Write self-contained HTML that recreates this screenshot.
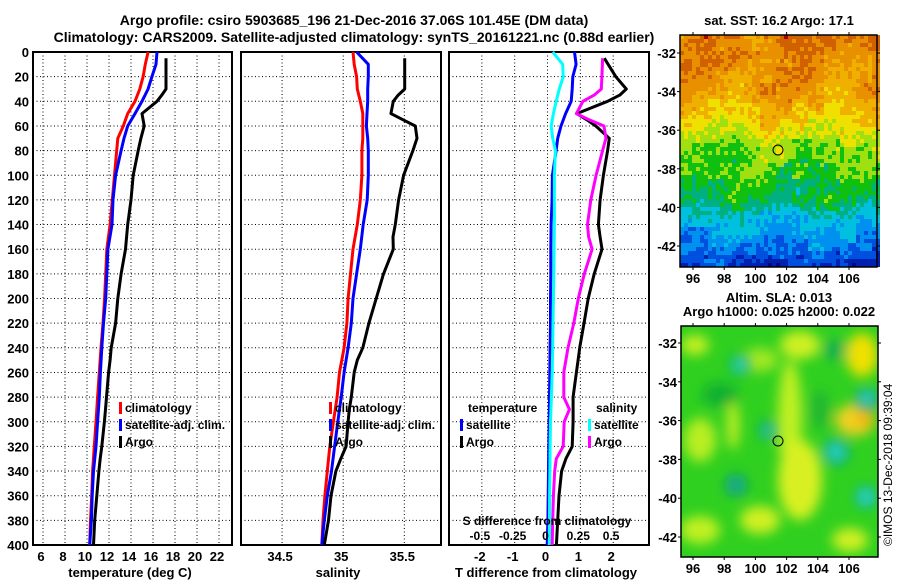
<!DOCTYPE html>
<html><head><meta charset="utf-8"><style>
body{margin:0;background:#fff;}
svg{display:block;font-family:"Liberation Sans",sans-serif;font-weight:bold;font-size:13px;}
.lg{font-size:12px;}
</style></head><body>
<svg id="fig" width="900" height="580" viewBox="0 0 900 580">
<text x="354" y="25" text-anchor="middle" font-size="14">Argo profile: csiro 5903685_196 21-Dec-2016 37.06S 101.45E (DM data)</text>
<text x="354" y="42" text-anchor="middle" font-size="14">Climatology: CARS2009. Satellite-adjusted climatology: synTS_20161221.nc (0.88d earlier)</text>
<g id="p1"></g>
<g id="p2"></g>
<g id="p3"></g>
<g id="m1"></g>
<g id="m2"></g>
<text x="779" y="25" text-anchor="middle">sat. SST: 16.2 Argo: 17.1</text>
<text x="779" y="302" text-anchor="middle">Altim. SLA: 0.013</text>
<text x="779" y="316" text-anchor="middle">Argo h1000: 0.025 h2000: 0.022</text>
<text transform="translate(892,546) rotate(-90)" font-weight="normal" font-size="12">©IMOS 13-Dec-2018 09:39:04</text>
</svg>
<script>
const depths=[0,10,20,30,40,50,60,70,80,100,120,140,160,180,200,220,240,260,280,300,320,340,360,380,400];
const tClim=[15.55,15.3,15.1,14.8,14.36,13.7,13.3,12.8,12.7,12.5,12.3,12.1,11.8,11.7,11.6,11.45,11.27,11.12,10.96,10.82,10.66,10.51,10.43,10.32,10.24];
const tSat=[16.36,16.27,15.9,15.55,15.0,14.36,13.7,13.36,13.1,12.6,12.36,12.27,11.9,11.8,11.7,11.5,11.34,11.22,11.12,10.96,10.82,10.59,10.47,10.4,10.24];
const sClim=[35.08,35.09,35.11,35.115,35.14,35.16,35.16,35.16,35.153,35.153,35.14,35.115,35.08,35.06,35.04,35.03,35.007,34.97,34.95,34.92,34.89,34.87,34.85,34.835,34.825];
const sSat=[35.11,35.205,35.205,35.2,35.2,35.195,35.19,35.2,35.205,35.205,35.196,35.164,35.14,35.11,35.08,35.066,35.04,35.007,34.984,34.956,34.93,34.904,34.87,34.845,34.825];
const dTSat=[0.82,0.87,0.77,0.75,0.72,0.55,0.41,0.31,0.26,0.15,0.14,0.11,0.1,0.1,0.09,0.09,0.08,0.07,0.06,0.05,0.04,0.03,0.02,0.01,-0.01];
const dSSat=[0.04,0.116,0.12,0.09,0.066,0.045,0.028,0.04,0.06,0.053,0.053,0.053,0.05,0.048,0.045,0.042,0.04,0.036,0.03,0.023,0.02,0.018,0.016,0.015,0.014];
const argoDepths=[5,20,30,35,40,50,55,60,70,80,100,120,140,150,160,180,200,220,240,250,260,280,290,300,320,330,340,360,380,400];
const tArgo=[17.18,17.18,17.18,16.8,16.36,15.0,15.1,15.2,14.9,14.65,14.2,14.0,13.7,13.6,13.5,13.1,12.8,12.6,12.2,12.1,11.96,11.77,11.68,11.58,11.34,11.2,11.08,10.89,10.7,10.59];
const sArgo=[35.503,35.503,35.503,35.45,35.41,35.39,35.49,35.59,35.604,35.57,35.494,35.453,35.426,35.407,35.41,35.33,35.27,35.21,35.16,35.115,35.09,35.066,35.05,35.04,35.024,34.98,34.94,34.9,34.88,34.845];
const dTArgo=[1.73,2.08,2.4,2.2,1.83,0.89,1.2,1.47,1.88,1.83,1.7,1.6,1.55,1.6,1.66,1.42,1.24,1.11,0.98,0.93,0.88,0.78,0.78,0.78,0.75,0.56,0.43,0.35,0.31,0.27];
const dSArgo=[0.42,0.414,0.41,0.356,0.27,0.22,0.318,0.43,0.445,0.42,0.37,0.33,0.305,0.313,0.34,0.28,0.235,0.2,0.156,0.14,0.124,0.124,0.167,0.127,0.12,0.067,0.055,0.045,0.04,0.036];
const depthTicks=[0,20,40,60,80,100,120,140,160,180,200,220,240,260,280,300,320,340,360,380,400];
const tTicks=[6,8,10,12,14,16,18,20,22];
const sTicks=[34.5,35,35.5];
const dTTicks=[-2,-1,0,1,2];
const dSTicks=[-0.5,-0.25,0,0.25,0.5];
const dSTickLabels=["-0.5","-0.25","0","0.25","0.5"];
const lonTicks=[96,98,100,102,104,106];
const latTicks=[-32,-34,-36,-38,-40,-42];

const NS="http://www.w3.org/2000/svg";
function mk(parent,tag,attrs,text){const e=document.createElementNS(NS,tag);for(const k in attrs)e.setAttribute(k,attrs[k]);if(text!==undefined)e.textContent=text;parent.appendChild(e);return e;}
const Y0=52,Y1=545;
const yScale=d=>Y0+(d/400)*(Y1-Y0);
function lin(d0,d1,r0,r1){return v=>r0+(v-d0)/(d1-d0)*(r1-r0);}

function panel(g,x0,x1,xs,ticks,labels,yLabels){
  for(const d of depthTicks){const y=yScale(d);
    const l=mk(g,'line',{x1:x0,x2:x1,y1:y,y2:y,stroke:'#000','stroke-width':1,'stroke-dasharray':'1,2.5'});
    
    if(yLabels){const t=mk(g,'text',{x:29,y:y+5,'text-anchor':'end'},String(d));
      }
  }
  ticks.forEach((v,i)=>{const x=xs(v);
    const l=mk(g,'line',{x1:x,x2:x,y1:Y0,y2:Y1,stroke:'#000','stroke-width':1,'stroke-dasharray':'1,2.5'});
    
    const t=mk(g,'text',{x:x-2,y:561,'text-anchor':'middle'},labels[i]);
    
  });
  const r=mk(g,'rect',{x:x0,y:Y0,width:x1-x0,height:Y1-Y0,fill:'none',stroke:'#000','stroke-width':2});
  
}
function line(g,xs,vals,ds,color,name){
  const pts=vals.map((v,i)=>xs(v).toFixed(1)+','+yScale(ds[i]).toFixed(1)).join(' ');
  const p=mk(g,'polyline',{points:pts,fill:'none',stroke:color,'stroke-width':3,'stroke-linejoin':'round'});
  
}
function legend(g,x,y,color,label,name){
  const r=mk(g,'rect',{x:x,y:y-10,width:3,height:12,fill:color});
  
  const t=mk(g,'text',{x:x+6,y:y,'class':'lg'},label);
  
}
function axTitle(g,x,text,name){const t=mk(g,'text',{x:x,y:577,'text-anchor':'middle'},text);}

const g1=document.getElementById('p1');
const xT=lin(5.09,23.18,33,232);
panel(g1,33,232,xT,tTicks,tTicks.map(String),true);
line(g1,xT,tClim,depths,'#ff0000','temp-climatology-line');
line(g1,xT,tSat,depths,'#0000ff','temp-satellite-line');
line(g1,xT,tArgo,argoDepths,'#000000','temp-argo-line');
legend(g1,119,412,'#ff0000','climatology','legend-climatology');
legend(g1,119,429,'#0000ff','satellite-adj. clim.','legend-satellite');
legend(g1,119,446,'#000000','Argo','legend-argo');
axTitle(g1,130,'temperature (deg C)','temperature-axis-title');

const g2=document.getElementById('p2');
const xS=lin(34.164,35.80,241,441);
panel(g2,241,441,xS,sTicks,["34.5","35","35.5"],false);
line(g2,xS,sClim,depths,'#ff0000','sal-climatology-line');
line(g2,xS,sSat,depths,'#0000ff','sal-satellite-line');
line(g2,xS,sArgo,argoDepths,'#000000','sal-argo-line');
legend(g2,329,412,'#ff0000','climatology','legend2-climatology');
legend(g2,329,429,'#0000ff','satellite-adj. clim.','legend2-satellite');
legend(g2,329,446,'#000000','Argo','legend2-argo');
axTitle(g2,338,'salinity','salinity-axis-title');

const g3=document.getElementById('p3');
const xD=lin(-3,3.09,449,649);
const xDS=lin(-0.75,0.773,449,649);
panel(g3,449,649,xD,dTTicks,dTTicks.map(String),false);
line(g3,xD,dTSat,depths,'#0000ff','dT-satellite-line');
line(g3,xDS,dSSat,depths,'#00ffff','dS-satellite-line');
line(g3,xD,dTArgo,argoDepths,'#000000','dT-argo-line');
line(g3,xDS,dSArgo,argoDepths,'#ff00ff','dS-argo-line');
let t=mk(g3,'text',{x:468,y:412,'class':'lg'},'temperature');
legend(g3,460,429,'#0000ff','satellite','legend3-t-satellite');
legend(g3,460,446,'#000000','Argo','legend3-t-argo');
t=mk(g3,'text',{x:596,y:412,'class':'lg'},'salinity');
legend(g3,588,429,'#00ffff','satellite','legend3-s-satellite');
legend(g3,588,446,'#ff00ff','Argo','legend3-s-argo');
t=mk(g3,'text',{x:547,y:525,'text-anchor':'middle','class':'lg'},'S difference from climatology');
dSTicks.forEach((v,i)=>{const tt=mk(g3,'text',{x:xDS(v)-2,y:540,'text-anchor':'middle','class':'lg'},dSTickLabels[i]);
  });
axTitle(g3,546,'T difference from climatology','t-diff-axis-title');

function mapAxes(g,x0,y0,x1,y1,latTop,latStep){
  const lonX=lin(96,106,693,849);
  lonTicks.forEach(v=>{const x=lonX(v);
    mk(g,'line',{x1:x,x2:x,y1:y0-3,y2:y0,stroke:'#000'});
    mk(g,'line',{x1:x,x2:x,y1:y1,y2:y1+3,stroke:'#000'});
    const tt=mk(g,'text',{x:x,y:y1+16,'text-anchor':'middle'},String(v));
    });
  latTicks.forEach(v=>{const y=latTop+(-32-v)/2*latStep;
    mk(g,'line',{x1:x0-3,x2:x0,y1:y,y2:y,stroke:'#000'});
    mk(g,'line',{x1:x1,x2:x1+3,y1:y,y2:y,stroke:'#000'});
    const tt=mk(g,'text',{x:x0-4,y:y+5,'text-anchor':'end'},String(v));
    });
  const r=mk(g,'rect',{x:x0,y:y0,width:x1-x0,height:y1-y0,fill:'none',stroke:'#000','stroke-width':1.5});
  
}
function hash(i,j){let h=(i*374761393+j*668265263)|0;h=(h^(h>>>13))*1274126177|0;return ((h^(h>>>16))>>>0)/4294967296;}
const pal=['#000a80','#0020b0','#0050e0','#0090f0','#00c0e0','#00b080','#10c010','#a0e010','#f0e000','#f0b000','#e89000','#d06000','#b00000'];
const m1=document.getElementById('m1');
(function(){
  const x0=680,y0=35,w=197,h=232,c=4;
  const stops=[[0,10.6],[25,10.1],[60,9.5],[90,8.2],[105,7],[130,6.2],[160,5.6],[180,4],[200,3.2],[232,1.3]];
  function base(y){for(let k=1;k<stops.length;k++){if(y<=stops[k][0]){const a=stops[k-1],b=stops[k];return a[1]+(y-a[0])/(b[0]-a[0])*(b[1]-a[1]);}}return 1;}
  for(let j=0;j*c<h;j++)for(let i=0;i*c<w;i++){
    let v=base(j*c)+(hash(i,j)-0.5)*1.3+Math.sin(i*0.25+j*0.1)*0.4+(hash(i>>2,j>>2)-0.5)*1.0;
    const k=Math.max(0,Math.min(pal.length-1,Math.round(v)));
    mk(m1,'rect',{x:x0+i*c,y:y0+j*c,width:c,height:c,fill:pal[k]});
  }
  const cc=mk(m1,'circle',{cx:778,cy:150,r:5,fill:'none',stroke:'#000','stroke-width':1});
  
  mapAxes(m1,680,35,877,267,53,38.6);
})();
const m2=document.getElementById('m2');
(function(){
  const defs=mk(m2,'defs',{});
  const f=mk(defs,'filter',{id:'blur',x:'-50%',y:'-50%',width:'200%',height:'200%'});
  mk(f,'feGaussianBlur',{stdDeviation:6});
  const cp=mk(defs,'clipPath',{id:'clip2'});mk(cp,'rect',{x:681,y:326,width:197,height:231});
  const g=mk(m2,'g',{'clip-path':'url(#clip2)'});
  mk(g,'rect',{x:681,y:326,width:197,height:231,fill:'#30d020'});
  const gb=mk(g,'g',{filter:'url(#blur)'});
  const blobs=[[695,345,14,10,'#c8f020'],[760,360,18,12,'#a0e820'],[800,345,20,14,'#d0f020'],[790,420,12,60,'#c0f020'],[800,480,22,40,'#d8f020'],[862,355,16,22,'#f0e000'],[855,420,20,16,'#f0d020'],[865,418,8,8,'#f0b000'],[700,440,16,22,'#b8ee20'],[760,520,20,14,'#d0f020'],[700,530,20,14,'#c0f020'],[850,540,18,12,'#d0f020'],[733,425,6,25,'#c8f020'],
    [740,365,10,10,'#10b060'],[835,350,12,10,'#10b050'],[867,400,12,10,'#10a070'],[768,430,9,10,'#10b060'],[836,452,13,13,'#10b080'],[736,485,11,11,'#10a070'],[866,497,10,10,'#10b080'],[720,395,18,12,'#10b030'],[820,410,10,20,'#20b830']];
  blobs.forEach(b=>mk(gb,'ellipse',{cx:b[0],cy:b[1],rx:b[2],ry:b[3],fill:b[4]}));
  [[740,365,4,'#30d8c0'],[768,431,3,'#30c8b0'],[836,452,5,'#30d8c8'],[867,398,5,'#30d0c8'],[866,497,5,'#30d8d0'],[736,485,3,'#20b8a0']].forEach(b=>mk(g,'circle',{cx:b[0],cy:b[1],r:b[2]+3,fill:b[3],filter:'url(#blur)'}));
  const cc=mk(m2,'circle',{cx:778,cy:441,r:5,fill:'none',stroke:'#000','stroke-width':1});
  
  mapAxes(m2,681,326,878,557,343,38.8);
})();
</script>
</body></html>
